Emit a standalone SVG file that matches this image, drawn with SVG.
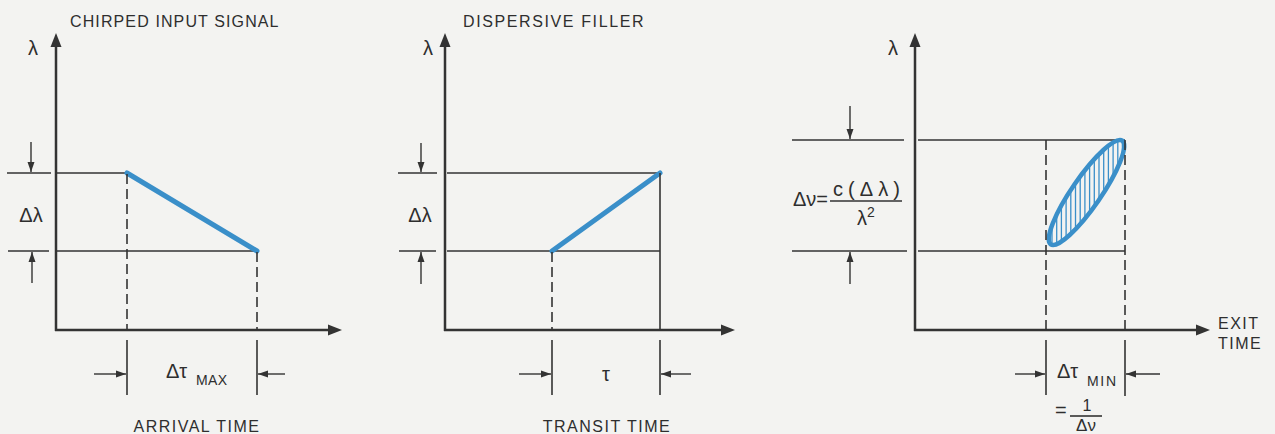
<svg xmlns="http://www.w3.org/2000/svg" width="1275" height="434" viewBox="0 0 1275 434">
<style>
.ax{stroke:#333;stroke-width:2.5;fill:none}
.ln{stroke:#333;stroke-width:1.6;fill:none}
.dsh{stroke:#333;stroke-width:1.6;fill:none;stroke-dasharray:10 5}
.dim{stroke:#333;stroke-width:1.4;fill:none}
.blue{stroke:#3a8fc9;stroke-width:5;fill:none;stroke-linecap:round}
.hatch{stroke:#3a8fc9;stroke-width:1.3}
text{font-family:"Liberation Sans",Arial,sans-serif;fill:#2e2e2e}
.ttl{font-size:16px;letter-spacing:1.5px}
.sym{font-size:20px}
.sub{font-size:14px;letter-spacing:1px}
</style>
<defs>
<marker id="axh" markerWidth="14" markerHeight="12" refX="0" refY="6" orient="auto" markerUnits="userSpaceOnUse">
<path d="M0,0.5 L14,6 L0,11.5 z" fill="#333"/>
</marker>
<marker id="dh" markerWidth="10" markerHeight="8" refX="10" refY="4" orient="auto" markerUnits="userSpaceOnUse">
<path d="M0,0.5 L10,4 L0,7.5 z" fill="#333"/>
</marker>
<clipPath id="ellClip">
<ellipse cx="1086.5" cy="192.5" rx="63" ry="14.5" transform="rotate(-55.4 1086.5 192.5)"/>
</clipPath>
</defs>
<rect x="0" y="0" width="1275" height="434" fill="#f3f3f1"/>

<g id="panel-chirped-input">
<text class="ttl" x="70" y="27" textLength="210">CHIRPED INPUT SIGNAL</text>
<text class="sym" x="33" y="55" text-anchor="middle">λ</text>
<line class="ln" x1="7" y1="173" x2="51" y2="173"/>
<line class="ln" x1="57" y1="173" x2="127" y2="173"/>
<line class="ln" x1="8" y1="251" x2="49" y2="251"/>
<line class="ln" x1="57" y1="251" x2="257" y2="251"/>
<text class="sym" x="31" y="222" text-anchor="middle">Δλ</text>
<text class="sym" x="166" y="378">Δτ</text>
<text class="sub" x="196" y="385" textLength="32">MAX</text>
<text class="ttl" x="197" y="432" text-anchor="middle">ARRIVAL TIME</text>
</g>

<g id="panel-dispersive-filler">
<text class="ttl" x="463" y="27" textLength="182">DISPERSIVE FILLER</text>
<text class="sym" x="428" y="55" text-anchor="middle">λ</text>
<line class="ln" x1="398" y1="173" x2="437" y2="173"/>
<line class="ln" x1="447" y1="173" x2="660" y2="173"/>
<line class="ln" x1="399" y1="251" x2="436" y2="251"/>
<line class="ln" x1="447" y1="251" x2="660" y2="251"/>
<text class="sym" x="420" y="222" text-anchor="middle">Δλ</text>
<text class="sym" x="606" y="381" text-anchor="middle">τ</text>
<text class="ttl" x="607" y="432" text-anchor="middle">TRANSIT TIME</text>
</g>

<g id="panel-exit">
<text class="sym" x="893" y="55" text-anchor="middle">λ</text>
<line class="ln" x1="792" y1="140" x2="904" y2="140"/>
<line class="ln" x1="918" y1="140" x2="1125" y2="140"/>
<line class="ln" x1="792" y1="251" x2="907" y2="251"/>
<line class="ln" x1="918" y1="251" x2="1125" y2="251"/>
<text class="sym" x="793" y="206">Δν=</text>
<text class="sym" x="833" y="196" textLength="67">c(Δλ)</text>
<line class="ln" x1="830" y1="201" x2="902" y2="201"/>
<text class="sym" x="866" y="225" text-anchor="middle">λ<tspan font-size="14" dy="-8">2</tspan></text>
<text class="ttl" x="1218" y="329">EXIT</text>
<text class="ttl" x="1218" y="349">TIME</text>
<text class="sym" x="1057" y="378">Δτ</text>
<text class="sub" x="1087" y="386" textLength="30">MIN</text>
<text class="sym" x="1055" y="417">=</text>
<text font-size="16" x="1087" y="411" text-anchor="middle">1</text>
<line class="ln" x1="1070" y1="416" x2="1102" y2="416"/>
<text font-size="17" x="1086" y="431" text-anchor="middle">Δν</text>
</g>

<g id="curves">
<line class="blue" x1="127" y1="173" x2="257" y2="251"/>
<line class="blue" x1="552" y1="251" x2="660" y2="173"/>
<g clip-path="url(#ellClip)">
<line class="hatch" x1="1052" y1="120" x2="1052" y2="260"/>
<line class="hatch" x1="1056.7" y1="120" x2="1056.7" y2="260"/>
<line class="hatch" x1="1061.4" y1="120" x2="1061.4" y2="260"/>
<line class="hatch" x1="1066.1" y1="120" x2="1066.1" y2="260"/>
<line class="hatch" x1="1070.8" y1="120" x2="1070.8" y2="260"/>
<line class="hatch" x1="1075.5" y1="120" x2="1075.5" y2="260"/>
<line class="hatch" x1="1080.2" y1="120" x2="1080.2" y2="260"/>
<line class="hatch" x1="1084.9" y1="120" x2="1084.9" y2="260"/>
<line class="hatch" x1="1089.6" y1="120" x2="1089.6" y2="260"/>
<line class="hatch" x1="1094.3" y1="120" x2="1094.3" y2="260"/>
<line class="hatch" x1="1099" y1="120" x2="1099" y2="260"/>
<line class="hatch" x1="1103.7" y1="120" x2="1103.7" y2="260"/>
<line class="hatch" x1="1108.4" y1="120" x2="1108.4" y2="260"/>
<line class="hatch" x1="1113.1" y1="120" x2="1113.1" y2="260"/>
<line class="hatch" x1="1117.8" y1="120" x2="1117.8" y2="260"/>
<line class="hatch" x1="1122.5" y1="120" x2="1122.5" y2="260"/>
</g>
<ellipse cx="1086.5" cy="192.5" rx="63" ry="14.5" transform="rotate(-55.4 1086.5 192.5)" fill="none" stroke="#3a8fc9" stroke-width="4.5"/>
</g>

<g id="connectors">
<line class="ax" x1="56" y1="331" x2="56" y2="47" marker-end="url(#axh)"/>
<line class="ax" x1="55" y1="330" x2="328" y2="330" marker-end="url(#axh)"/>
<line class="ax" x1="445" y1="331" x2="445" y2="47" marker-end="url(#axh)"/>
<line class="ax" x1="444" y1="330" x2="721" y2="330" marker-end="url(#axh)"/>
<line class="ax" x1="915" y1="331" x2="915" y2="47" marker-end="url(#axh)"/>
<line class="ax" x1="914" y1="330" x2="1196" y2="330" marker-end="url(#axh)"/>
<line class="dsh" x1="127" y1="174" x2="127" y2="330"/>
<line class="dsh" x1="257" y1="252" x2="257" y2="330"/>
<line class="ln" x1="127" y1="340" x2="127" y2="395"/>
<line class="ln" x1="257" y1="340" x2="257" y2="395"/>
<line class="dsh" x1="552" y1="252" x2="552" y2="330"/>
<line class="ln" x1="660" y1="173" x2="660" y2="330"/>
<line class="ln" x1="552" y1="340" x2="552" y2="395"/>
<line class="ln" x1="660" y1="340" x2="660" y2="395"/>
<line class="dsh" x1="1046" y1="140" x2="1046" y2="330"/>
<line class="dsh" x1="1125" y1="140" x2="1125" y2="330"/>
<line class="ln" x1="1046" y1="340" x2="1046" y2="395"/>
<line class="ln" x1="1125" y1="340" x2="1125" y2="396"/>
<line class="dim" x1="31" y1="142" x2="31" y2="172" marker-end="url(#dh)"/>
<line class="dim" x1="32" y1="283" x2="32" y2="252" marker-end="url(#dh)"/>
<line class="dim" x1="94" y1="374" x2="126" y2="374" marker-end="url(#dh)"/>
<line class="dim" x1="285" y1="374" x2="258" y2="374" marker-end="url(#dh)"/>
<line class="dim" x1="421" y1="143" x2="421" y2="172" marker-end="url(#dh)"/>
<line class="dim" x1="421" y1="284" x2="421" y2="252" marker-end="url(#dh)"/>
<line class="dim" x1="519" y1="374" x2="551" y2="374" marker-end="url(#dh)"/>
<line class="dim" x1="691" y1="374" x2="661" y2="374" marker-end="url(#dh)"/>
<line class="dim" x1="850" y1="106" x2="850" y2="139" marker-end="url(#dh)"/>
<line class="dim" x1="850" y1="284" x2="850" y2="252" marker-end="url(#dh)"/>
<line class="dim" x1="1015" y1="374" x2="1045" y2="374" marker-end="url(#dh)"/>
<line class="dim" x1="1160" y1="374" x2="1126" y2="374" marker-end="url(#dh)"/>
</g>
</svg>
